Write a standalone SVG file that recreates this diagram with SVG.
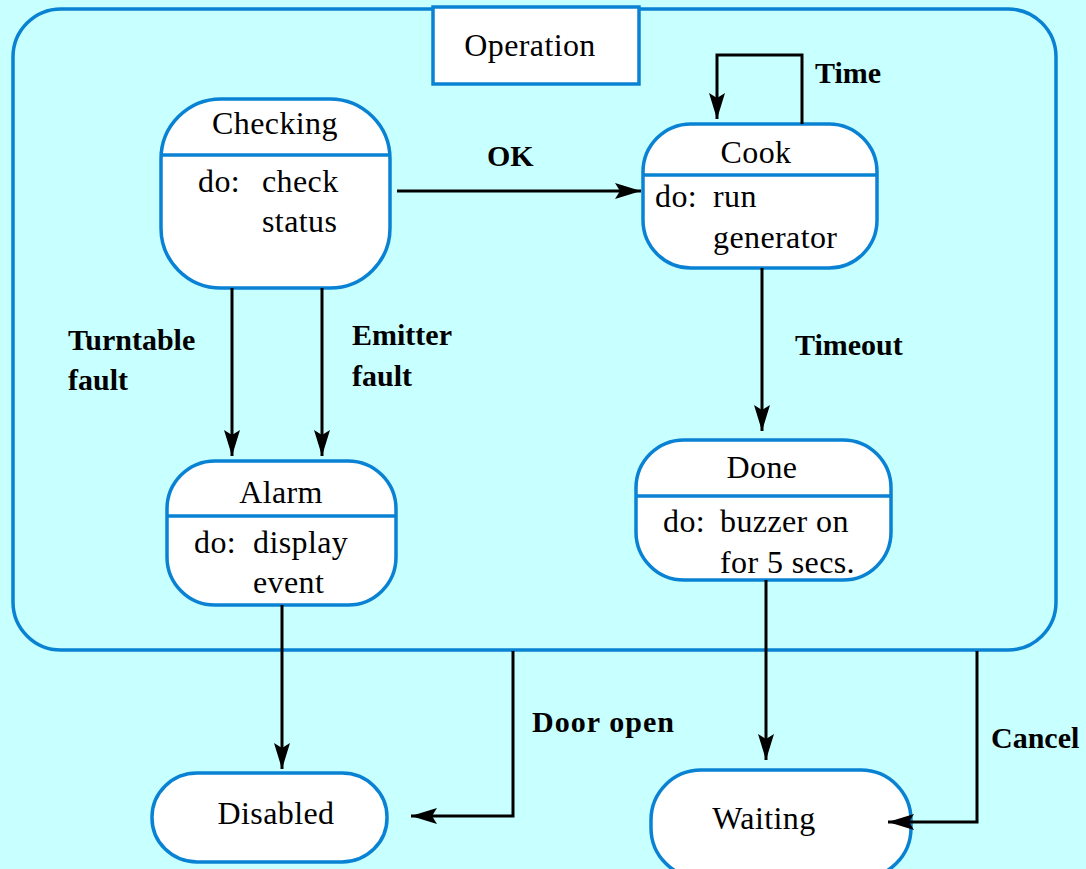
<svg xmlns="http://www.w3.org/2000/svg" width="1086" height="869" viewBox="0 0 1086 869">
<style>
.st{fill:#fff;stroke:#0a82d4;stroke-width:3.5}
.dv{stroke:#0a82d4;stroke-width:3.5}
.t{font-family:'Liberation Serif','Times New Roman',Tinos,'DejaVu Serif',serif;font-size:32px;letter-spacing:0.4px;fill:#000}
.l{font-family:'Liberation Serif','Times New Roman',Tinos,'DejaVu Serif',serif;font-size:30px;font-weight:bold;fill:#000}
.c{fill:none;stroke:#000;stroke-width:3}
</style>
<defs>
<marker id="ah" markerWidth="28" markerHeight="20" refX="26" refY="10" orient="auto" markerUnits="userSpaceOnUse">
<path d="M0,2 L26,10 L0,18 L5,10 Z" fill="#000"/>
</marker>
</defs>
<rect width="1086" height="869" fill="#c8ffff"/>
<g id="operation">
<rect x="13" y="9" width="1043" height="641" rx="48" ry="48" fill="none" stroke="#0a82d4" stroke-width="3.5"/>
<rect x="433" y="7" width="206" height="77" class="st"/>
<text x="530" y="56" class="t" text-anchor="middle">Operation</text>
</g>
<g id="checking">
<rect x="161" y="99" width="229" height="189" rx="60" ry="60" class="st"/>
<line x1="160" y1="155" x2="391" y2="155" class="dv"/>
<text x="275" y="134" class="t" text-anchor="middle">Checking</text>
<text x="198" y="192" class="t">do:</text>
<text x="262" y="192" class="t">check</text>
<text x="262" y="232" class="t">status</text>
</g>
<g id="cook">
<rect x="643" y="124" width="234" height="144" rx="48" ry="48" class="st"/>
<line x1="642" y1="175" x2="878" y2="175" class="dv"/>
<text x="756" y="163" class="t" text-anchor="middle">Cook</text>
<text x="655" y="207" class="t">do:</text>
<text x="713" y="207" class="t">run</text>
<text x="713" y="248" class="t">generator</text>
</g>
<g id="alarm">
<rect x="167" y="461" width="229" height="144" rx="48" ry="48" class="st"/>
<line x1="166" y1="516" x2="397" y2="516" class="dv"/>
<text x="281" y="503" class="t" text-anchor="middle">Alarm</text>
<text x="194" y="553" class="t">do:</text>
<text x="253" y="553" class="t">display</text>
<text x="253" y="593" class="t">event</text>
</g>
<g id="done">
<rect x="636" y="440" width="255" height="140" rx="48" ry="48" class="st"/>
<line x1="635" y1="496" x2="892" y2="496" class="dv"/>
<text x="762" y="478" class="t" text-anchor="middle">Done</text>
<text x="663" y="532" class="t">do:</text>
<text x="720" y="532" class="t">buzzer on</text>
<text x="720" y="573" class="t">for 5 secs.</text>
</g>
<g id="disabled">
<rect x="152" y="773" width="235" height="89" rx="45" ry="44" class="st"/>
<text x="276" y="824" class="t" text-anchor="middle">Disabled</text>
</g>
<g id="waiting">
<rect x="651" y="770" width="260" height="108" rx="50" ry="50" class="st"/>
<text x="764" y="829" class="t" text-anchor="middle">Waiting</text>
</g>
<g id="connectors">
<path d="M397,191 H641" class="c" marker-end="url(#ah)"/>
<path d="M802,124 V55 H717 V119" class="c" marker-end="url(#ah)"/>
<path d="M232,288 V456" class="c" marker-end="url(#ah)"/>
<path d="M322,288 V456" class="c" marker-end="url(#ah)"/>
<path d="M762,268 V431" class="c" marker-end="url(#ah)"/>
<path d="M282,605 V769" class="c" marker-end="url(#ah)"/>
<path d="M513,651 V816 H411" class="c" marker-end="url(#ah)"/>
<path d="M766,580 V760" class="c" marker-end="url(#ah)"/>
<path d="M977,651 V822 H888" class="c" marker-end="url(#ah)"/>
<text x="487" y="166" class="l">OK</text>
<text x="815" y="83" class="l">Time</text>
<text x="68" y="350" class="l">Turntable</text>
<text x="68" y="390" class="l">fault</text>
<text x="352" y="345" class="l">Emitter</text>
<text x="352" y="386" class="l">fault</text>
<text x="795" y="355" class="l">Timeout</text>
<text x="532" y="732" class="l" textLength="142">Door open</text>
<text x="991" y="748" class="l">Cancel</text>
</g>
</svg>
